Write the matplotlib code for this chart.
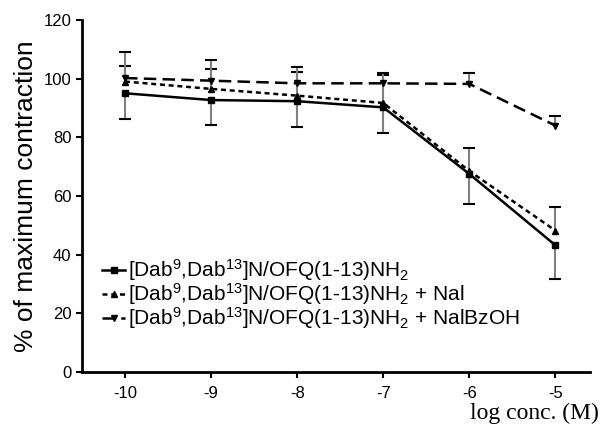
import numpy as np
import matplotlib.pyplot as plt

plt.switch_backend('Agg')
plt.rcParams['font.family'] = ['Liberation Sans', 'DejaVu Sans']
plt.rcParams['mathtext.fontset'] = 'custom'
plt.rcParams['mathtext.rm'] = 'Liberation Sans'
plt.rcParams['mathtext.default'] = 'regular'

log_conc = [-10, -9, -8, -7, -6, -5]

# [Dab9,Dab13]N/OFQ(1-13)NH2 alone (error bars drawn downwards)
agonist = [95.0, 92.7, 92.3, 90.2, 67.5, 43.2]
agonist_err = [8.6, 8.5, 8.7, 8.8, 10.3, 11.4]

# + Nal (error bars drawn upwards)
nal = [99.0, 96.5, 94.2, 91.7, 68.5, 48.2]
nal_err = [5.4, 6.7, 8.1, 9.5, 8.0, 8.0]

# + NalBzOH (error bars drawn upwards)
nalbzoh = [100.2, 99.3, 98.4, 98.4, 98.2, 84.0]
nalbzoh_err = [9.0, 7.2, 5.7, 3.6, 3.6, 3.2]

labels = [
    '[Dab$^9$,Dab$^{13}$]N/OFQ(1-13)NH$_2$',
    '[Dab$^9$,Dab$^{13}$]N/OFQ(1-13)NH$_2$ + Nal',
    '[Dab$^9$,Dab$^{13}$]N/OFQ(1-13)NH$_2$ + NalBzOH',
]

fig = plt.figure(figsize=(6.14, 4.34), dpi=100)
ax = fig.add_axes([0.1336, 0.143, 0.827, 0.811])

series = [
    (agonist, agonist_err, 's', '-', 'down'),
    (nal, nal_err, '^', (0, (2, 1.5)), 'up'),
    (nalbzoh, nalbzoh_err, 'v', (0, (5, 2.5)), 'up'),
]
handles = []
for (y, err, mk, ls, side), lab in zip(series, labels):
    zeros = [0] * len(err)
    yerr = [err, zeros] if side == 'down' else [zeros, err]
    ax.errorbar(log_conc, y, yerr=yerr, fmt='none', ecolor='#7f7f7f',
                elinewidth=1.5, capsize=0, zorder=2)
    ends = np.array(y) - np.array(err) if side == 'down' else np.array(y) + np.array(err)
    ax.plot(log_conc, ends, linestyle='none', marker='_', markersize=8,
            markeredgewidth=1.5, color='black', zorder=2)
    line, = ax.plot(log_conc, y, color='black', linestyle=ls, linewidth=1.8,
                    marker=mk, markersize=5, zorder=3, label=lab)
    handles.append(line)

ax.set_xlim(-10.5, -4.6)
ax.set_ylim(0, 120)
ax.set_xticks(log_conc)
ax.set_xticklabels([str(v) for v in log_conc])
ax.set_yticks(range(0, 121, 20))
ax.tick_params(labelsize=12, width=1.5, length=4)
ax.tick_params(axis='x', pad=6)
for s in ['top', 'right']:
    ax.spines[s].set_visible(False)
for s in ['left', 'bottom']:
    ax.spines[s].set_linewidth(2)

ax.set_ylabel('% of maximum contraction', fontsize=19, labelpad=4)
fig.text(0.975, 0.022, 'log conc. (M)', family='Liberation Serif',
         fontsize=17, ha='right', va='bottom')

ax.legend(handles=handles, loc='lower left', bbox_to_anchor=(0.04, 0.115),
          frameon=False, fontsize=15, handlelength=1.1, handletextpad=0.15,
          labelspacing=-0.08, borderaxespad=0.0, borderpad=0.0)

plt.savefig('out.png', dpi=100)
plt.close()
